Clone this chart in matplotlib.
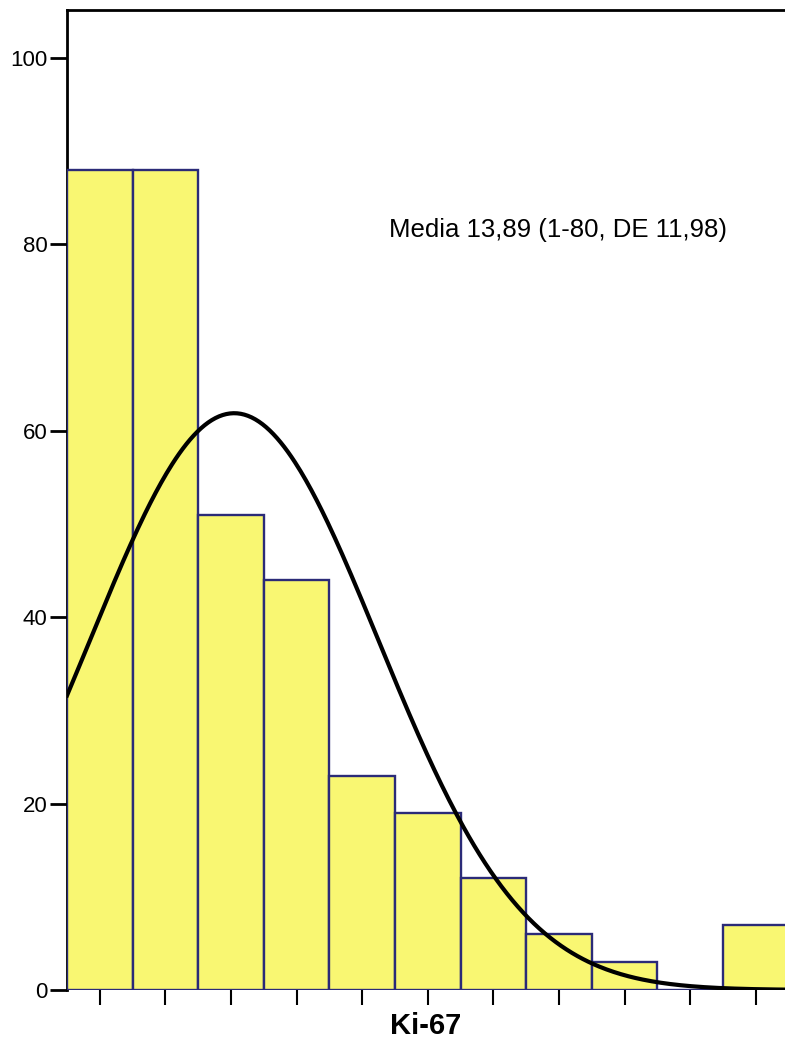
import numpy as np
import matplotlib.pyplot as plt
import matplotlib as mpl

mpl.rcParams['font.family'] = ['Liberation Sans', 'DejaVu Sans']

# Ki-67 frequency histogram, 5.45-wide bins starting at 0
counts = [88, 88, 51, 44, 23, 19, 12, 6, 3, 0, 7]
bin_width = 5.45
n_cases = 341
mean_ki67 = 13.89
sd_ki67 = 11.98
y_ticks = [0, 20, 40, 60, 80, 100]
x_label = 'Ki-67'
note = 'Media 13,89 (1-80, DE 11,98)'

fig = plt.figure(figsize=(7.85, 10.42), dpi=100)
ax = fig.add_axes([67 / 785, 52 / 1042, 718 / 785, 980 / 1042])

edges = np.arange(len(counts)) * bin_width
centers = edges + bin_width / 2
ax.bar(edges, counts, width=bin_width, align='edge', color='#f9f772',
       edgecolor='#2b2b78', linewidth=1.7, zorder=3)

# fitted normal curve scaled to counts
xs = np.linspace(0, 60, 400)
pdf = np.exp(-0.5 * ((xs - mean_ki67) / sd_ki67) ** 2) / (sd_ki67 * np.sqrt(2 * np.pi))
ax.plot(xs, n_cases * bin_width * pdf, color='black', linewidth=3, zorder=4)

ax.set_xlim(0, 718 / 65.6 * bin_width)
ax.set_ylim(0, 105.15)

ax.set_yticks(y_ticks)
ax.set_xticks(centers)
ax.set_xticklabels([])
ax.tick_params(axis='y', length=12, width=2, pad=2, labelsize=16)
ax.tick_params(axis='x', length=11, width=1.5, pad=2)

for s in ['right', 'bottom']:
    ax.spines[s].set_visible(False)
for s in ['left', 'top']:
    ax.spines[s].set_linewidth(2)

ax.set_xlabel(x_label, fontsize=21, fontweight='bold', labelpad=3)
ax.text(26.75, 81.5, note, fontsize=18.5, va='center', ha='left')

fig.savefig('out.png', dpi=100)
